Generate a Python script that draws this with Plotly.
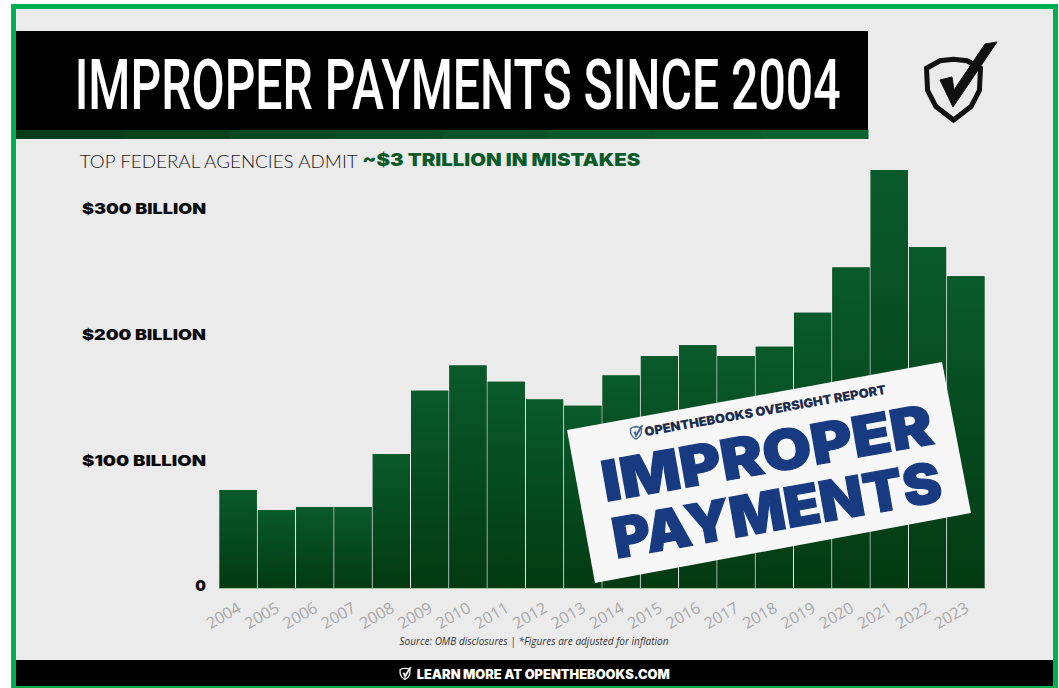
import json
import plotly.graph_objects as go

W, H = 1059, 688
years = [str(y) for y in range(2004, 2024)]
values = [78, 62, 64.5, 64.5, 106.6, 157, 177, 164, 150, 145, 169, 184.5, 193, 184.5, 192, 219, 255, 332.5, 271, 248]
y_ticks = [1.5, 101.5, 201.5, 301.5]
y_labels = ["0", "$100 BILLION", "$200 BILLION", "$300 BILLION"]

PAPER = "#ebebec"
GREEN = "#00b050"
DARK_TOP = "#095a2b"
DARK_BOT = "#033a12"
HEAVY = "Inter"


def px(x, y):
    return x / W, 1 - y / H


def rect(x0, y0, x1, y1, color):
    a, b = px(x0, y0)
    c, d = px(x1, y1)
    return dict(type="rect", xref="paper", yref="paper", x0=a, y0=b, x1=c, y1=d,
                fillcolor=color, line_width=0, layer="below")


def path(points, fill=None, line=None, lw=0, layer="above", close=True):
    s = ""
    for i, (x, y) in enumerate(points):
        a, b = px(x, y)
        s += ("M" if i == 0 else "L") + f"{a:.5f},{b:.5f} "
    if close:
        s += "Z"
    d = dict(type="path", xref="paper", yref="paper", path=s, layer=layer,
             line=dict(color=line or "rgba(0,0,0,0)", width=lw))
    if fill:
        d["fillcolor"] = fill
    return d


def note(x, y, text, size, color, family="Inter", weight=400, angle=0, anchor="center", style="normal"):
    a, b = px(x, y)
    return dict(xref="paper", yref="paper", x=a, y=b, text=text, showarrow=False,
                xanchor=anchor, yanchor="middle", textangle=angle,
                font=dict(size=size, color=color, family=family, weight=weight, style=style))


def shield(cx, cy, s, color, lw, fill=None):
    pts = [(-1, -0.62), (-0.5, -0.9), (0, -0.95), (0.5, -0.9), (1, -0.62), (0.96, 0.2), (0.65, 0.8), (0, 1.3),
           (-0.65, 0.8), (-0.96, 0.2)]
    return path([(cx + s * a, cy + s * b) for a, b in pts], fill=fill, line=color, lw=lw)


def tick_mark(cx, cy, s, color):
    pts = [(-0.45, -0.2), (-0.05, -0.25), (0, 0.25), (1.0, -1.45), (1.4, -1.5), (0, 0.85)]
    return path([(cx + s * a, cy + s * b) for a, b in pts], fill=color, line=color, lw=0.5)


fig = go.Figure()

fig.add_bar(x=list(range(20)), y=values, width=0.97, marker=dict(color=DARK_BOT, line_width=0),
            hoverinfo="skip", showlegend=False)

w = 0.485
for i, v in enumerate(values):
    fig.add_scatter(x=[i - w, i - w, i + w, i + w, i - w], y=[0, v, v, 0, 0], mode="lines",
                    line=dict(width=0), fill="toself", hoverinfo="skip", showlegend=False,
                    fillgradient=dict(type="vertical",
                                      colorscale=[[0, DARK_BOT], [1, DARK_TOP]]))

shapes = [
    rect(0, 0, W, H, "#ffffff"),
    rect(13.5, 6.5, 1055.5, 686, PAPER),
    rect(16, 31, 868, 130, "#000000"),
    rect(16, 660, 1053, 686, "#000000"),
]
band = ["#053d1a", "#064219", "#06481f", "#074e24", "#085428", "#09592b", "#0a5e2e", "#0b6231"]
for i, c in enumerate(band):
    shapes.append(rect(16 + i * 106.5, 130, 16 + (i + 1) * 106.5 + 0.5, 139, c))
shapes += [rect(11, 4, 16, 688, GREEN), rect(11, 4, 1058, 9, GREEN), rect(1053, 4, 1058, 688, GREEN),
           rect(11, 686, 1058, 688, GREEN)]

shapes.append(shield(953.5, 85, 27, "#111111", 5))
shapes.append(path([(940, 80), (952, 77), (954, 90), (985, 44), (997, 42), (953, 107)], fill="#111111",
                   line="#111111", lw=1))

shapes.append(path([(567, 430), (942, 362), (971, 513), (595, 583)], fill="#f7f7f8"))
shapes.append(shield(636, 432, 5.5, "#3f5f8f", 1.3))
shapes.append(tick_mark(636, 433, 5, "#3f5f8f"))
shapes.append(shield(405, 673, 5, "#ffffff", 1.2))
shapes.append(tick_mark(405, 674, 4.5, "#ffffff"))

T_TITLE = "IMPROPER PAYMENTS SINCE 2004"
T_SUB = "TOP FEDERAL AGENCIES ADMIT"
T_SUB2 = "~$3 TRILLION IN MISTAKES"
T_SRC = "Source: OMB disclosures | *Figures are adjusted for inflation"
T_FOOT = "LEARN MORE AT OPENTHEBOOKS.COM"
T_REP = "OPENTHEBOOKS OVERSIGHT REPORT"

TITLE_SIZE = 50
annotations = [
    note(457, 85, T_TITLE, TITLE_SIZE, "#ffffff", family="Roboto", weight=500),
    note(219, 161, T_SUB, 18.5, "#1a1a1a", family="Lato", weight=300),
    note(501, 160, T_SUB2, 17.5, "#0a5a2a", family=HEAVY, weight=900),
    note(534, 641, T_SRC, 10, "#333333", family="Open Sans", style="italic"),
    note(543, 674, T_FOOT, 12.5, "#ffffff", family=HEAVY, weight=900),
    note(765, 411, T_REP, 12.5, "#1f2c4c", family=HEAVY, weight=900, angle=-10),
    note(767, 453, "IMPROPER", 56, "#173a80", family=HEAVY, weight=900, angle=-10),
    note(777, 510, "PAYMENTS", 56, "#173a80", family=HEAVY, weight=900, angle=-10),
]

fig.update_layout(
    width=W, height=H, margin=dict(l=0, r=0, t=0, b=0),
    paper_bgcolor="#ffffff", plot_bgcolor="rgba(0,0,0,0)",
    showlegend=False, shapes=shapes, annotations=annotations,
    xaxis=dict(domain=[219 / W, 985 / W], range=[-0.5, 19.5], tickmode="array", automargin=False,
               tickvals=list(range(20)), ticktext=years, tickangle=-30,
               tickfont=dict(size=16, color="#a8a8a8", family="Open Sans"),
               showgrid=False, zeroline=False, showline=True, linecolor="#9cc7a8", linewidth=1, ticks="",
               ticklabelstandoff=4),
    yaxis=dict(domain=[100 / H, 1 - 148 / H], range=[0, 350], tickmode="array", automargin=False,
               tickvals=y_ticks, ticktext=y_labels,
               tickfont=dict(size=15, color="#0a0a0a", family=HEAVY, weight=900),
               showgrid=False, zeroline=False, showline=False, ticks="", ticklabelstandoff=12),
)

FIT = {T_SUB: 278, T_SUB2: 278, T_FOOT: 253, T_REP: 245, T_SRC: 269,
       "IMPROPER": 335, "PAYMENTS": 333, "$100 BILLION": 124, "$200 BILLION": 124, "$300 BILLION": 124}
post = """
document.body.style.margin = '0';
var fit = %s;
document.querySelectorAll('svg text').forEach(function (t) {
  var c = t.textContent, n = fit[c];
  if (n) { t.setAttribute('textLength', n); t.setAttribute('lengthAdjust', 'spacingAndGlyphs'); }
  if (c === 'IMPROPER' || c === 'PAYMENTS') { t.style.stroke = '#173a80'; t.style.strokeWidth = '1.2px'; }
  if (c === %s) {
    var sx = 766 / t.getComputedTextLength(), sy = 71 / %d;
    t.style.transformBox = 'fill-box';
    t.style.transformOrigin = 'center';
    t.style.transform = 'scale(' + sx + ',' + sy + ')';
  }
});
""" % (json.dumps(FIT), json.dumps(T_TITLE), TITLE_SIZE)

fig.write_html("out.html", post_script=post, config={"displayModeBar": False})
